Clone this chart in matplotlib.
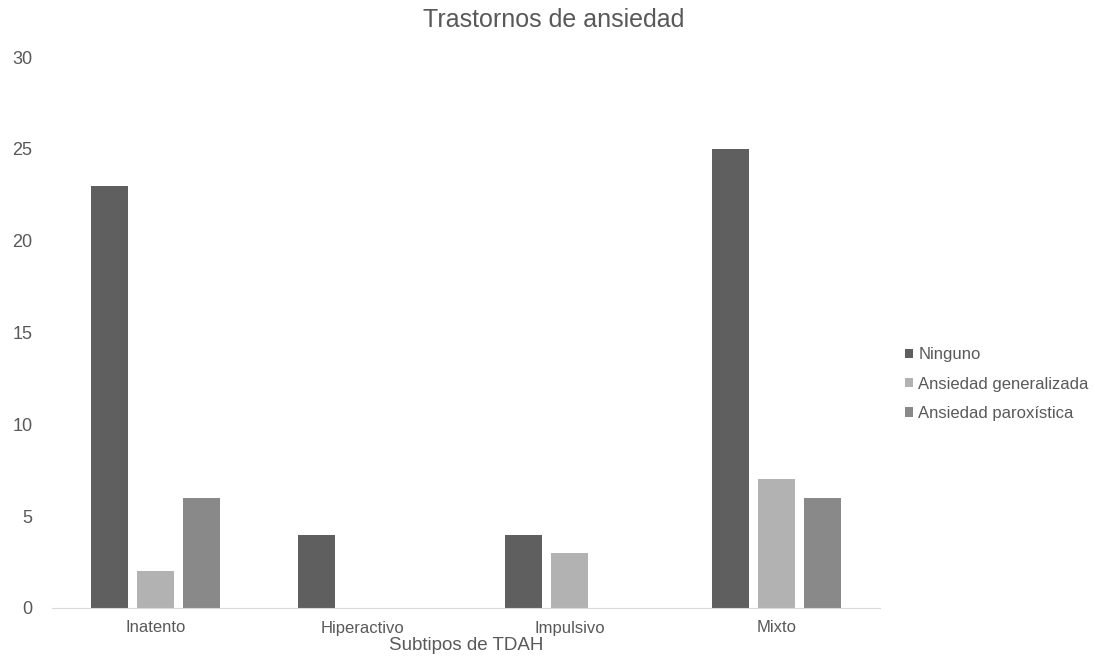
import numpy as np
import matplotlib.pyplot as plt

categories = ["Inatento", "Hiperactivo", "Impulsivo", "Mixto"]
ninguno = [23, 4, 4, 25]
generalizada = [2, 0, 3, 7]
paroxistica = [6, 0, 0, 6]

series = [
    ("Ninguno", ninguno, "#5f5f5f"),
    ("Ansiedad generalizada", generalizada, "#b2b2b2"),
    ("Ansiedad paroxística", paroxistica, "#898989"),
]

plt.rcParams["font.family"] = ["Liberation Sans", "DejaVu Sans"]
text_color = "#595959"

fig = plt.figure(figsize=(10.95, 6.66), dpi=100)
ax = fig.add_axes([52 / 1095, 1 - 608 / 666, 828 / 1095, (608 - 57) / 666])

x = np.arange(len(categories))
width = 0.178
step = 0.222
for i, (name, vals, color) in enumerate(series):
    ax.bar(x + (i - 1) * step, vals, width=width, color=color, label=name)

ax.set_xlim(-0.5, len(categories) - 0.5)
ax.set_ylim(0, 30)
ax.set_yticks(range(0, 31, 5))
ax.set_xticks(x)
ax.set_xticklabels(categories)

for side in ["top", "right", "left"]:
    ax.spines[side].set_visible(False)
ax.spines["bottom"].set_color("#d9d9d9")
ax.tick_params(axis="both", length=0, colors=text_color)
ax.tick_params(axis="y", pad=14, labelsize=13)
ax.tick_params(axis="x", pad=9, labelsize=12)

ax.set_xlabel("Subtipos de TDAH", color=text_color, fontsize=13.5, labelpad=1)
fig.text(554 / 1095, 1 - 20 / 666, "Trastornos de ansiedad", color=text_color,
         fontsize=18, ha="center", va="center")

leg = fig.legend(loc="center left", bbox_to_anchor=(905 / 1095, 1 - 384 / 666),
                 frameon=False, borderpad=0, borderaxespad=0,
                 handlelength=0.5, handleheight=0.5, handletextpad=0.3,
                 labelspacing=0.85, fontsize=12)
for t in leg.get_texts():
    t.set_color(text_color)

fig.savefig("out.png", dpi=100)
